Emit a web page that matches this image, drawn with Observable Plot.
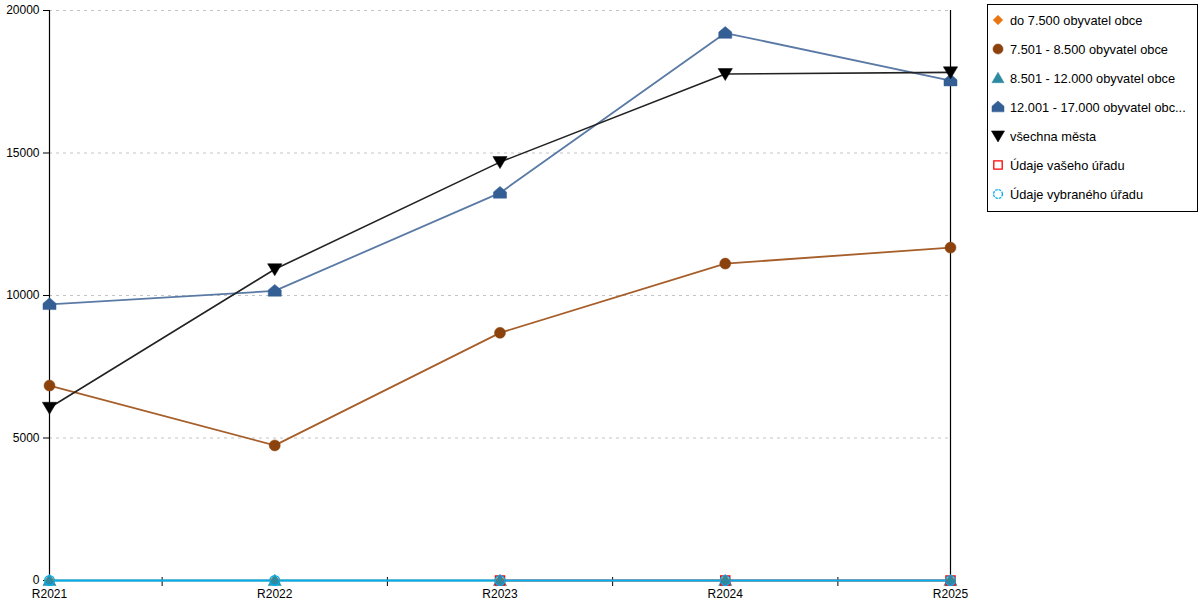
<!DOCTYPE html>
<html>
<head>
<meta charset="utf-8">
<script src="https://cdn.jsdelivr.net/npm/d3@7"></script>
<script src="https://cdn.jsdelivr.net/npm/@observablehq/plot@0.6"></script>
<style>
  html, body { margin: 0; padding: 0; background: #fff; }
  #wrap { position: relative; width: 1200px; height: 600px; font-family: "Liberation Sans", Arial, sans-serif; }
  #legend { position: absolute; left: 987px; top: 4px; width: 211px; height: 208px; border: 1px solid #000; box-sizing: border-box; background: #fff; }
  .item { position: absolute; left: 0; height: 16px; display: flex; align-items: center; font-size: 12.8px; color: #000; white-space: nowrap; }
  .item svg { margin-left: 3px; margin-right: 5px; }
</style>
</head>
<body>
<div id="wrap"><div id="legend"></div></div>
<script>
const years = ["R2021", "R2022", "R2023", "R2024", "R2025"];
const seriesNames = [
  "do 7.500 obyvatel obce",
  "7.501 - 8.500 obyvatel obce",
  "8.501 - 12.000 obyvatel obce",
  "12.001 - 17.000 obyvatel obc...",
  "všechna města",
  "Údaje vašeho úřadu",
  "Údaje vybraného úřadu"
];
const do7500 = [0, 0, 0, 0, 0];
const s7501 = [6840, 4740, 8690, 11120, 11680];
const s8501 = [0, 0, 0, 0, 0];
const s12001 = [9690, 10160, 13600, 19210, 17540];
const vsechna = [6060, 10920, 14680, 17770, 17830];
const vasUrad = [null, null, 0, 0, 0];
const vybrany = [0, 0, 0, 0, 0];
const yTicks = [0, 5000, 10000, 15000, 20000];

const allValues = [do7500, s7501, s8501, s12001, vsechna, vasUrad, vybrany];
const markerFill = ["#E8750F", "#8C420C", "#2E8AA0", "#335F95", "#000000", "none", "none"];
const markerStroke = ["#E8750F", "#8C420C", "#2E8AA0", "#335F95", "#000000", "#FF0000", "#00AEEF"];
const lineColor = ["#E8750F", "#A65E2A", "#2E8AA0", "#5A7AA5", "#222222", "#FF0000", "#00AEEF"];
const lineWidth = [1.5, 1.8, 1.5, 1.8, 1.6, 1.5, 2.2];

// custom symbols
const downTriangle = { draw(ctx, size) { const r = Math.sqrt(size / Math.PI); ctx.moveTo(-r * 1.1, -r * 0.85); ctx.lineTo(r * 1.1, -r * 0.85); ctx.lineTo(0, r * 1.0); ctx.closePath(); } };
const house = { draw(ctx, size) { const r = Math.sqrt(size / Math.PI); ctx.moveTo(0, -r * 1.05); ctx.lineTo(r * 1.05, -r * 0.15); ctx.lineTo(r * 1.05, r * 0.85); ctx.lineTo(-r * 1.05, r * 0.85); ctx.lineTo(-r * 1.05, -r * 0.15); ctx.closePath(); } };
const upTriangle = { draw(ctx, size) { const r = Math.sqrt(size / Math.PI); ctx.moveTo(0, -r * 1.05); ctx.lineTo(r * 1.1, r * 0.85); ctx.lineTo(-r * 1.1, r * 0.85); ctx.closePath(); } };
const diamond = { draw(ctx, size) { const r = Math.sqrt(size / Math.PI) * 1.05; ctx.moveTo(0, -r); ctx.lineTo(r, 0); ctx.lineTo(0, r); ctx.lineTo(-r, 0); ctx.closePath(); } };
const square = { draw(ctx, size) { const r = Math.sqrt(size / Math.PI) * 0.95; ctx.rect(-r, -r, 2 * r, 2 * r); } };
const circle = { draw(ctx, size) { const r = Math.sqrt(size / Math.PI); ctx.moveTo(r, 0); ctx.arc(0, 0, r, 0, 2 * Math.PI); } };
const symbols = [diamond, circle, upTriangle, house, downTriangle, square, circle];
const radii = [5, 5.5, 6, 6.2, 6.5, 4.8, 4.8];

const rows = [];
allValues.forEach((vals, s) => vals.forEach((v, i) => { if (v !== null) rows.push({ s, i, v }); }));
const mids = years.slice(1).map((_, i) => i + 0.5);

const marks = [
  Plot.gridY(yTicks.filter(t => t > 0), { stroke: "#c4c4c4", strokeOpacity: 1, strokeDasharray: "3,4" }),
  Plot.ruleX([0, years.length - 1], { stroke: "#000", strokeWidth: 1.2 }),
  Plot.ruleY([0], { stroke: "#000" }),
  Plot.ruleX(mids, { x: d => d, y1: 0, y2: 0, insetTop: -3, insetBottom: -6, stroke: "#000" }),
  Plot.axisY({ ticks: yTicks, tickSize: 6, tickPadding: 4, tickFormat: d => String(d), fontSize: 12, label: null, anchor: "left" }),
  Plot.axisX({ ticks: years.map((_, i) => i), tickSize: 0, tickPadding: 9, tickFormat: i => years[i], fontSize: 12, label: null })
];
allValues.forEach((vals, s) => {
  const data = rows.filter(r => r.s === s);
  marks.push(Plot.line(data, { x: "i", y: "v", stroke: lineColor[s], strokeWidth: lineWidth[s] }));
});
allValues.forEach((vals, s) => {
  const data = rows.filter(r => r.s === s);
  marks.push(Plot.dot(data, { x: "i", y: "v", symbol: () => symbols[s], r: radii[s], fill: markerFill[s], stroke: markerStroke[s], strokeWidth: markerFill[s] === "none" ? 1.4 : 0.5 }));
});

const chart = Plot.plot({
  width: 1200,
  height: 600,
  marginLeft: 49,
  marginRight: 250,
  marginTop: 10,
  marginBottom: 20,
  style: { fontFamily: "'Liberation Sans', Arial, sans-serif", fontSize: "12px", color: "#000", background: "#fff" },
  x: { type: "linear", domain: [0, years.length - 1], axis: null },
  y: { domain: [0, 20000], axis: null },
  symbol: { type: "identity" },
  marks
});
document.getElementById("wrap").prepend(chart);

// legend
const legend = document.getElementById("legend");
seriesNames.forEach((name, s) => {
  const item = document.createElement("div");
  item.className = "item";
  item.style.top = (7 + s * 29) + "px";
  const svg = d3.create("svg").attr("width", 14).attr("height", 14);
  const path = d3.path();
  symbols[s].draw(path, Math.PI * radii[s] * radii[s] * 0.85);
  svg.append("path").attr("transform", "translate(7,7)").attr("d", path.toString())
    .attr("fill", markerFill[s]).attr("stroke", markerStroke[s]).attr("stroke-width", markerFill[s] === "none" ? 1.3 : 0.5)
    .attr("stroke-dasharray", s === 6 ? "2.5,1" : null);
  item.appendChild(svg.node());
  const span = document.createElement("span");
  span.textContent = name;
  item.appendChild(span);
  legend.appendChild(item);
});
</script>
</body>
</html>
